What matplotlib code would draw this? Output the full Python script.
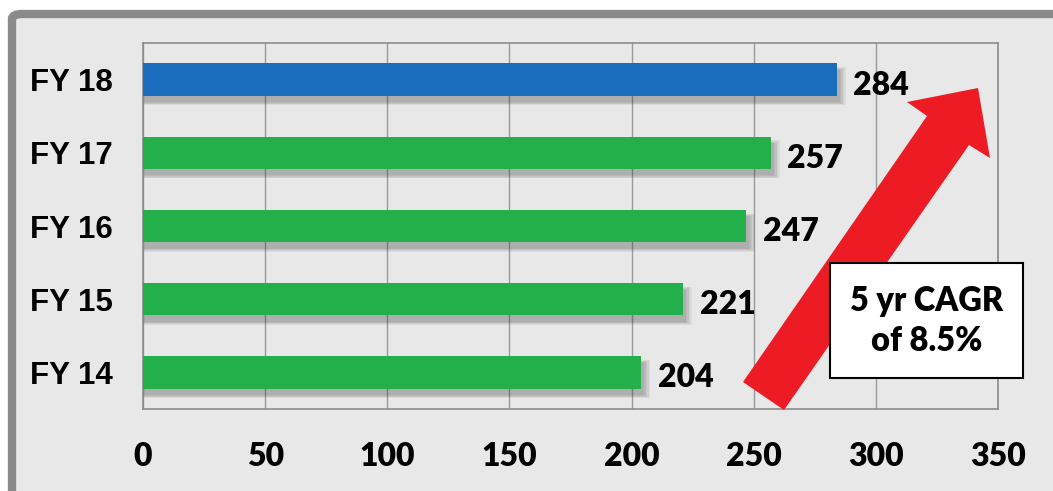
import matplotlib
matplotlib.use("Agg")
import matplotlib.pyplot as plt
from matplotlib.patches import Rectangle, Polygon, FancyBboxPatch

# ---- data ----
categories = ["FY 14", "FY 15", "FY 16", "FY 17", "FY 18"]
values = [204, 221, 247, 257, 284]
bar_colors = ["#23b04b", "#23b04b", "#23b04b", "#23b04b", "#1b6ebe"]
x_ticks = [0, 50, 100, 150, 200, 250, 300, 350]
cagr_text = "5 yr CAGR\nof 8.5%"

W, H = 1053, 491
fig = plt.figure(figsize=(W / 100, H / 100), dpi=100)
fig.patch.set_facecolor("white")

# outer panel with grey border
panel = FancyBboxPatch((12 / W, -0.05), 1.2, (H - 14) / H + 0.05,
                       boxstyle="round,pad=0,rounding_size=0.01",
                       transform=fig.transFigure, facecolor="#e8e8e8",
                       edgecolor="#8a8a8a", linewidth=6, zorder=0)
fig.add_artist(panel)

ax = fig.add_axes([143 / W, (H - 409) / H, (998 - 143) / W, (409 - 43) / H])
ax.patch.set_alpha(0)

ypos = list(range(len(categories)))
bh = 0.44
# soft shadows
for k in range(5):
    grow = 0.02 * k
    ax.barh([y - 0.09 for y in ypos], [v + 1.2 + 0.6 * k for v in values],
            height=bh + grow, left=0, color="#333333", alpha=0.07, zorder=2,
            linewidth=0)
ax.barh(ypos, values, height=bh, color=bar_colors, zorder=3, linewidth=0)

FW = "heavy"
for y, v in zip(ypos, values):
    ax.annotate(str(v), (v, y), xytext=(12, -4), textcoords="offset points",
                ha="left", va="center", fontsize=23, fontweight=FW,
                family="Lato", color="black", zorder=4)

ax.set_xlim(0, 350)
ax.set_ylim(-0.5, len(categories) - 0.5)
ax.set_xticks(x_ticks)
ax.set_xticklabels([str(t) for t in x_ticks], fontsize=23, fontweight=FW,
                   family="Lato")
ax.set_yticks(ypos)
ax.set_yticklabels(categories, fontsize=22.5, fontweight="bold",
                   family="Liberation Sans")
ax.tick_params(axis="both", length=0)
ax.tick_params(axis="x", pad=24)
ax.tick_params(axis="y", pad=22)
ax.grid(axis="x", color="#9a9a9a", linewidth=1.0, zorder=1)
ax.set_axisbelow(True)
for s in ax.spines.values():
    s.set_color("#8c8c8c")
    s.set_linewidth(1.2)

# overlay in pixel coordinates for arrow and callout
ov = fig.add_axes([0, 0, 1, 1])
ov.set_xlim(0, W)
ov.set_ylim(H, 0)
ov.axis("off")
ov.patch.set_alpha(0)

arrow = Polygon([(743, 382), (927, 116), (907, 102), (978, 88),
                 (990, 158), (969, 145), (784, 410)],
                closed=True, facecolor="#ed1c24", edgecolor="none", zorder=5)
ov.add_patch(arrow)

ov.add_patch(Rectangle((830, 263), 193, 115, facecolor="white",
                       edgecolor="black", linewidth=1.5, zorder=6))
ov.text(927, 321, cagr_text, ha="center", va="center", fontsize=23.5,
        fontweight=FW, family="Lato", linespacing=1.3, zorder=7)

fig.savefig("out.png", dpi=100)
